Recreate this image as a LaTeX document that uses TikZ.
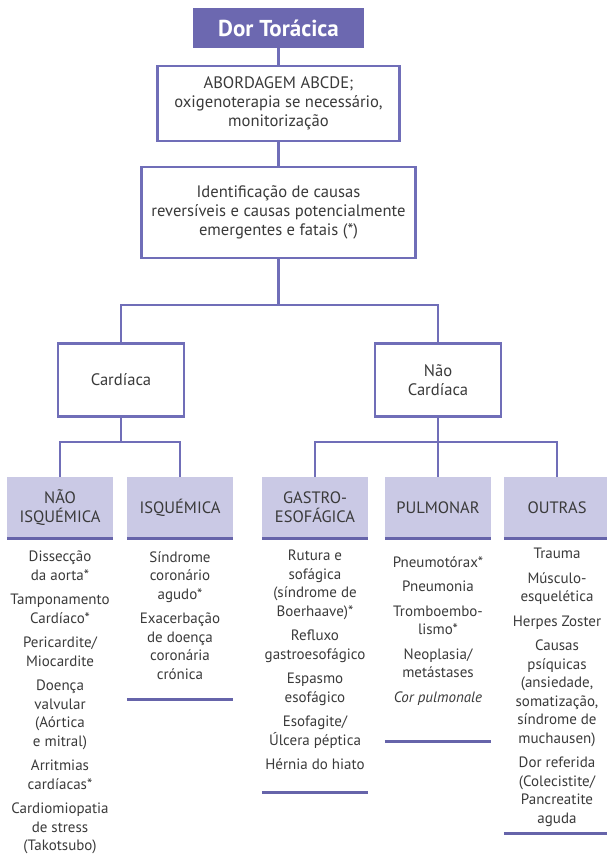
\documentclass[tikz,border=0pt]{standalone}
\usepackage{fontspec}
\setmainfont{PT Sans}
\definecolor{linkblue}{RGB}{112,110,184}
\definecolor{titlefill}{RGB}{108,104,176}
\definecolor{headfill}{RGB}{202,201,229}
\definecolor{rulecol}{RGB}{102,100,170}
\definecolor{textgray}{RGB}{58,58,58}
\newcommand\bodyfont{\fontsize{15}{18.5}\selectfont}
\newcommand\boxfont{\fontsize{16.6}{19}\selectfont}
\newcommand\headfont{\fontsize{16.5}{19}\selectfont}
\newcommand\itemgap{\\[6pt]}
\begin{document}
\begin{tikzpicture}[x=1pt,y=-1pt,
  link/.style={draw=linkblue,line width=2.7pt},
  box/.style={draw=linkblue,line width=2.7pt,fill=white,align=center,inner sep=0pt,
    font=\boxfont,text=textgray},
  titlebox/.style={fill=titlefill,inner sep=0pt,minimum width=171pt,minimum height=40pt,
    text=white,font=\fontsize{23}{26}\selectfont\bfseries},
  headbox/.style={fill=headfill,inner sep=0pt,minimum width=106pt,minimum height=61pt,
    align=center,font=\headfont,text=textgray},
  headrule/.style={draw=rulecol,line width=3pt},
  listtext/.style={align=center,inner sep=0pt,font=\bodyfont,text=textgray,anchor=north}]
\useasboundingbox (0,0) rectangle (607,864);

% top of the chart
\node[titlebox] (title) at (278.5,28) {Dor Torácica};
\node[box,minimum width=242pt,minimum height=75pt] (abc) at (278.5,103.5)
  {ABORDAGEM ABCDE;\\oxigenoterapia se necessário,\\monitorização};
\node[box,minimum width=274pt,minimum height=91pt] (ident) at (278.5,212.5)
  {Identificação de causas\\reversíveis e causas potencialmente\\emergentes e fatais (*)};

% first split
\node[box,minimum width=126pt,minimum height=73pt] (card) at (121,380) {Cardíaca};
\node[box,minimum width=126pt,minimum height=73pt] (ncard) at (438,380) {Não\\Cardíaca};

% category headers
\node[headbox] (nisq) at (60,507.5) {NÃO\\ISQUÉMICA};
\node[headbox] (isq) at (180,507.5) {ISQUÉMICA};
\node[headbox] (gastro) at (315,507.5) {GASTRO-\\ESOFÁGICA};
\node[headbox] (pulm) at (438,507.5) {PULMONAR};
\node[headbox] (outras) at (557,507.5) {OUTRAS};

\foreach \h in {nisq,isq,gastro,pulm,outras}
  \draw[headrule] (\h.south west) -- (\h.south east);

% junction levels
\coordinate (split1) at (0,305);
\coordinate (split2) at (0,442);

% connectors
\draw[link] (title.south) -- (abc.north);
\draw[link] (abc.south) -- (ident.north);
\draw[link] (ident.south) -- (ident.south |- split1);
\draw[link] (card.north) -- (card.north |- split1) -- (ncard.north |- split1) -- (ncard.north);
\draw[link] (card.south) -- (card.south |- split2);
\draw[link] (nisq.north) -- (nisq.north |- split2) -- (isq.north |- split2) -- (isq.north);
\draw[link] (ncard.south) -- (ncard.south |- split2);
\draw[link] (gastro.north) -- (gastro.north |- split2) -- (outras.north |- split2) -- (outras.north);
\draw[link] (pulm.north) -- (pulm.north |- split2);

% cause lists
\node[listtext] (nisqlist) at (60,551)
  {Dissecção\\da aorta*\itemgap
   Tamponamento\\Cardíaco*\itemgap
   Pericardite/\\Miocardite\itemgap
   Doença\\valvular\\(Aórtica\\e mitral)\itemgap
   Arritmias\\cardíacas*\itemgap
   Cardiomiopatia\\de stress\\(Takotsubo)};
\node[listtext] (isqlist) at (180,551)
  {Síndrome\\coronário\\agudo*\itemgap
   Exacerbação\\de doença\\coronária\\crónica};
\node[listtext] (gastrolist) at (315,550)
  {Rutura e\\sofágica\\(síndrome de\\Boerhaave)*\itemgap
   Refluxo\\gastroesofágico\itemgap
   Espasmo\\esofágico\itemgap
   Esofagite/\\Úlcera péptica\itemgap
   Hérnia do hiato};
\node[listtext] (pulmlist) at (438,556)
  {Pneumotórax*\itemgap
   Pneumonia\itemgap
   Tromboembo-\\lismo*\itemgap
   Neoplasia/\\metástases\itemgap
   \textit{Cor pulmonale}};
\node[listtext] (outraslist) at (557,548)
  {Trauma\itemgap
   Músculo-\\esquelética\itemgap
   Herpes Zoster\itemgap
   Causas\\psíquicas\\(ansiedade,\\somatização,\\síndrome de\\muchausen)\itemgap
   Dor referida\\(Colecistite/\\Pancreatite\\aguda};

% closing rules under the lists
\coordinate (isqend) at (0,699);
\coordinate (gastroend) at (0,792);
\coordinate (pulmend) at (0,741);
\coordinate (outrasend) at (0,833);
\draw[headrule] (isq.west |- isqend) -- (isq.east |- isqend);
\draw[headrule] (gastro.west |- gastroend) -- (gastro.east |- gastroend);
\draw[headrule] (pulm.west |- pulmend) -- (pulm.east |- pulmend);
\draw[headrule] (outras.west |- outrasend) -- (outras.east |- outrasend);
\end{tikzpicture}
\end{document}
